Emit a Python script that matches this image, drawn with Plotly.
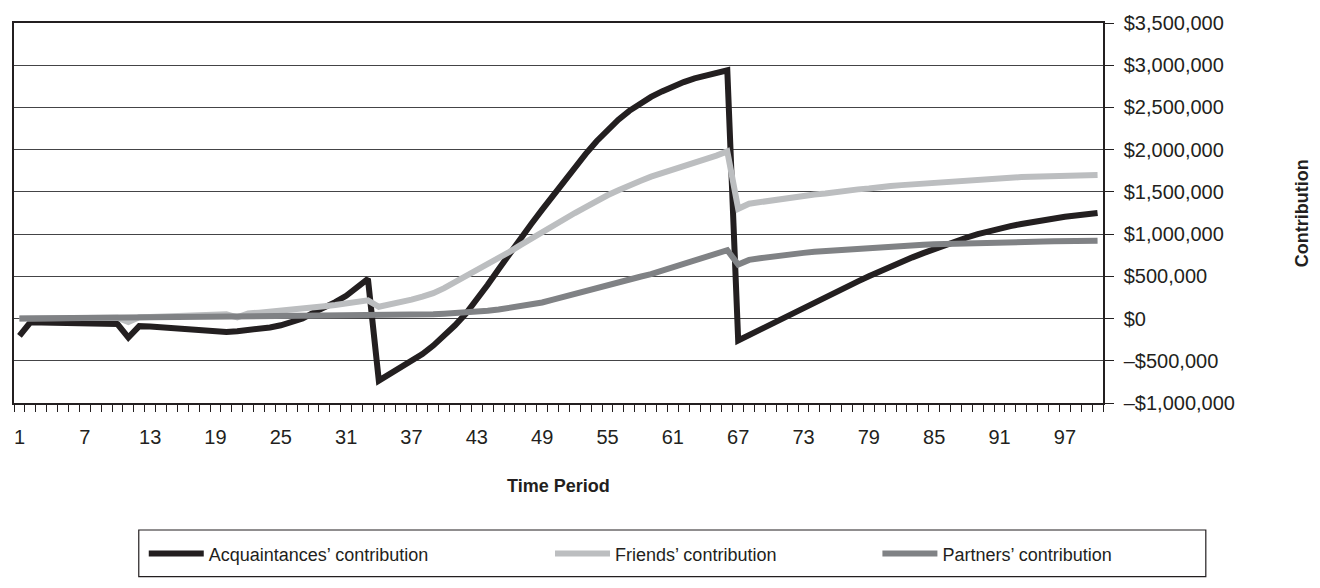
import plotly.graph_objects as go

periods = list(range(1, 101))

acquaintances = [
    -205e3, -45e3, -48e3, -50e3, -52e3, -54e3, -56e3, -58e3, -60e3, -65e3,
    -225e3, -90e3, -95e3, -105e3, -115e3, -125e3, -135e3, -145e3, -155e3, -160e3,
    -150e3, -140e3, -125e3, -105e3, -80e3, -45e3, 0, 70e3, 130e3, 195e3,
    270e3, 360e3, 470e3, -735e3, -660e3, -590e3, -510e3, -420e3, -320e3, -205e3,
    -80e3, 60e3, 220e3, 400e3, 585e3, 770e3, 950e3, 1120e3, 1290e3, 1460e3,
    1630e3, 1790e3, 1950e3, 2100e3, 2235e3, 2355e3, 2460e3, 2550e3, 2625e3, 2690e3,
    2750e3, 2800e3, 2845e3, 2880e3, 2910e3, 2940e3, -260e3, -195e3, -130e3, -65e3,
    0, 65e3, 130e3, 195e3, 255e3, 320e3, 380e3, 440e3, 500e3, 560e3,
    615e3, 670e3, 725e3, 775e3, 825e3, 875e3, 920e3, 960e3, 1000e3, 1035e3,
    1065e3, 1095e3, 1120e3, 1145e3, 1165e3, 1185e3, 1205e3, 1220e3, 1235e3, 1250e3,
]

friends = [
    0, 0, 2e3, 3e3, 4e3, 5e3, 6e3, 7e3, 8e3, 10e3,
    -40e3, 15e3, 18e3, 22e3, 26e3, 30e3, 35e3, 40e3, 45e3, 50e3,
    15e3, 60e3, 70e3, 80e3, 90e3, 100e3, 115e3, 130e3, 145e3, 160e3,
    180e3, 200e3, 215e3, 140e3, 165e3, 195e3, 225e3, 260e3, 300e3, 360e3,
    430e3, 495e3, 565e3, 640e3, 710e3, 790e3, 870e3, 950e3, 1030e3, 1100e3,
    1170e3, 1250e3, 1320e3, 1400e3, 1460e3, 1520e3, 1580e3, 1630e3, 1680e3, 1720e3,
    1770e3, 1810e3, 1850e3, 1890e3, 1930e3, 1980e3, 1300e3, 1360e3, 1380e3, 1400e3,
    1420e3, 1430e3, 1450e3, 1470e3, 1480e3, 1500e3, 1520e3, 1530e3, 1540e3, 1560e3,
    1570e3, 1580e3, 1590e3, 1605e3, 1615e3, 1625e3, 1635e3, 1643e3, 1650e3, 1657e3,
    1663e3, 1668e3, 1675e3, 1680e3, 1685e3, 1690e3, 1693e3, 1696e3, 1698e3, 1700e3,
]

partners = [
    0, 1e3, 2e3, 3e3, 4e3, 5e3, 6e3, 7e3, 8e3, 9e3,
    10e3, 10e3, 11e3, 12e3, 13e3, 14e3, 15e3, 16e3, 17e3, 18e3,
    18e3, 19e3, 20e3, 20e3, 21e3, 22e3, 23e3, 24e3, 25e3, 26e3,
    27e3, 28e3, 29e3, 30e3, 32e3, 35e3, 40e3, 45e3, 50e3, 57e3,
    63e3, 70e3, 80e3, 92e3, 107e3, 125e3, 145e3, 165e3, 190e3, 225e3,
    260e3, 295e3, 330e3, 370e3, 400e3, 435e3, 470e3, 495e3, 525e3, 565e3,
    610e3, 650e3, 690e3, 730e3, 770e3, 810e3, 640e3, 695e3, 715e3, 735e3,
    750e3, 765e3, 778e3, 790e3, 800e3, 812e3, 822e3, 832e3, 840e3, 848e3,
    856e3, 862e3, 868e3, 874e3, 879e3, 884e3, 888e3, 892e3, 895e3, 899e3,
    902e3, 905e3, 907e3, 910e3, 912e3, 914e3, 916e3, 918e3, 920e3, 921e3,
]

series_names = ["Acquaintances\u2019 contribution", "Friends\u2019 contribution", "Partners\u2019 contribution"]
series_colors = ["#231F20", "#BCBEC0", "#808285"]

x_tick_vals = list(range(1, 101, 6))
y_tick_vals = [-1e6, -5e5, 0, 5e5, 1e6, 1.5e6, 2e6, 2.5e6, 3e6, 3.5e6]
y_tick_text = ["\u2013$1,000,000", "\u2013$500,000", "$0", "$500,000", "$1,000,000",
               "$1,500,000", "$2,000,000", "$2,500,000", "$3,000,000", "$3,500,000"]

FONT = "Liberation Sans, Arial, sans-serif"
INK = "#231F20"

fig = go.Figure()
legends = ["legend", "legend2", "legend3"]
for ys, name, col, lg in zip([acquaintances, friends, partners], series_names, series_colors, legends):
    fig.add_trace(go.Scatter(x=periods, y=ys, mode="lines", name=name, showlegend=True,
                             line=dict(color=col, width=6), legend=lg))

# page body has an 8px default margin; size the figure so the plot lands where intended
OFF = 8
W, H = 1320 - OFF, 588 - OFF
plot_left, plot_right, plot_top, plot_bottom = 12, 1103, 20, 403
ml = plot_left - OFF
mt = plot_top - OFF
mr = OFF + W - plot_right
mb = OFF + H - plot_bottom
pw = plot_right - plot_left
ph = plot_bottom - plot_top

def px_to_paper_x(px):
    return (px - plot_left) / pw

def px_to_paper_y(py):
    return (plot_bottom - py) / ph

leg_common = dict(orientation="h", yanchor="middle", xanchor="left",
                  font=dict(family=FONT, size=18, color=INK), itemwidth=55,
                  bgcolor="rgba(0,0,0,0)", borderwidth=0)

fig.update_layout(
    width=W, height=H,
    margin=dict(l=ml, r=mr, t=mt, b=mb),
    paper_bgcolor="white", plot_bgcolor="white",
    showlegend=True,
    font=dict(family=FONT, size=19, color=INK),
    legend=dict(x=px_to_paper_x(142), y=px_to_paper_y(555), **leg_common),
    legend2=dict(x=px_to_paper_x(549), y=px_to_paper_y(555), **leg_common),
    legend3=dict(x=px_to_paper_x(877), y=px_to_paper_y(555), **leg_common),
    xaxis=dict(
        range=[0.5, 100.5],
        tickmode="array", tickvals=x_tick_vals, ticktext=[str(v) for v in x_tick_vals],
        ticks="outside", ticklen=15, tickcolor="rgba(0,0,0,0)",
        minor=dict(ticks="outside", tickmode="linear", tick0=0.5, dtick=1,
                   ticklen=7, tickcolor=INK, tickwidth=1, showgrid=False),
        showgrid=False, zeroline=False,
        showline=True, linecolor=INK, linewidth=2, mirror=True,
        tickfont=dict(family=FONT, size=20, color=INK),
    ),
    yaxis=dict(
        side="right", range=[-1e6, 3.5e6],
        tickmode="array", tickvals=y_tick_vals, ticktext=y_tick_text,
        ticks="outside", ticklen=9, tickcolor=INK, tickwidth=1,
        ticklabelstandoff=6,
        showgrid=True, gridcolor="#444446", gridwidth=1.2,
        zeroline=False,
        showline=True, linecolor=INK, linewidth=1.5, mirror=True,
        tickfont=dict(family=FONT, size=20, color=INK),
    ),
    annotations=[
        dict(text="<b>Time Period</b>", xref="paper", yref="paper",
             x=0.5, y=px_to_paper_y(487), xanchor="center", yanchor="middle",
             showarrow=False, font=dict(family=FONT, size=18, color=INK)),
        dict(text="<b>Contribution</b>", xref="paper", yref="paper",
             x=px_to_paper_x(1303), y=px_to_paper_y(212), xanchor="center", yanchor="middle",
             textangle=-90, showarrow=False, font=dict(family=FONT, size=18, color=INK)),
    ],
    shapes=[
        dict(type="rect", xref="paper", yref="paper",
             x0=px_to_paper_x(137), x1=px_to_paper_x(1206),
             y0=px_to_paper_y(531), y1=px_to_paper_y(578),
             line=dict(color=INK, width=1.2), fillcolor="rgba(0,0,0,0)", layer="below"),
    ],
)

fig.write_html("out.html")
